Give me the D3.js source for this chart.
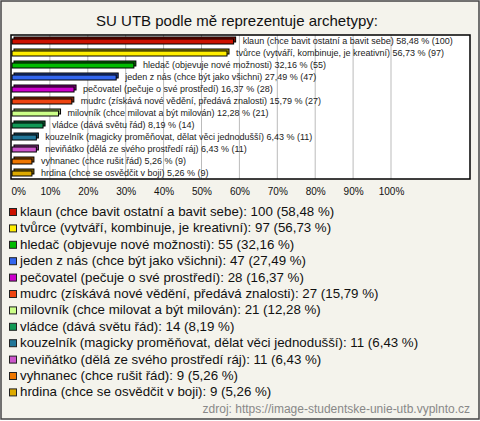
<!DOCTYPE html>
<html><head><meta charset="utf-8">
<script src="https://cdn.jsdelivr.net/npm/d3@7"></script>
<style>
html,body{margin:0;padding:0;background:#fff;}
svg{display:block;font-family:"Liberation Sans",Arial,sans-serif;}
</style></head>
<body>
<svg id="c" width="480" height="421"></svg>
<script>
const title = "SU UTB podle mě reprezentuje archetypy:";
const categories = [
  "klaun (chce bavit ostatní a bavit sebe)",
  "tvůrce (vytváří, kombinuje, je kreativní)",
  "hledač (objevuje nové možnosti)",
  "jeden z nás (chce být jako všichni)",
  "pečovatel (pečuje o své prostředí)",
  "mudrc (získává nové vědění, předává znalosti)",
  "milovník (chce milovat a být milován)",
  "vládce (dává světu řád)",
  "kouzelník (magicky proměňovat, dělat věci jednodušší)",
  "neviňátko (dělá ze svého prostředí ráj)",
  "vyhnanec (chce rušit řád)",
  "hrdina (chce se osvědčit v boji)"
];
const counts = [100, 97, 55, 47, 28, 27, 21, 14, 11, 11, 9, 9];
const percents = [58.48, 56.73, 32.16, 27.49, 16.37, 15.79, 12.28, 8.19, 6.43, 6.43, 5.26, 5.26];
const colors = ["#cc1100","#ffee00","#00bb00","#3366ee","#cc00cc","#ee4411","#ccff88","#119955","#227799","#cc55cc","#ee7700","#ddaa00"];
const ticks = [0,10,20,30,40,50,60,70,80,90,100];
const source = "zdroj: https://image-studentske-unie-utb.vyplnto.cz";

const fmt = v => v.toFixed(2).replace(".", ",");
const svg = d3.select("#c");

svg.append("rect").attr("x",1).attr("y",1).attr("width",478).attr("height",418)
  .attr("fill","#f4f3ec").attr("stroke","#444").attr("stroke-width",1.5);

svg.append("text").attr("x",237).attr("y",26).attr("text-anchor","middle")
  .attr("font-size",15).attr("fill","#111").text(title);

const plot = {x0:11, x1:470, y0:35, y1:179};
const x = d3.scaleLinear().domain([0,100]).range([12,391]);
const y = d3.scaleBand().domain(d3.range(categories.length)).range([plot.y0, plot.y1]);

svg.append("rect").attr("x",plot.x0).attr("y",plot.y0)
  .attr("width",plot.x1-plot.x0).attr("height",plot.y1-plot.y0).attr("fill","#fff");

svg.append("g").selectAll("line").data(ticks.slice(1)).join("line")
  .attr("x1",d=>x(d)).attr("x2",d=>x(d)).attr("y1",plot.y0).attr("y2",plot.y1)
  .attr("stroke","#bbb").attr("stroke-width",1);

const bars = svg.append("g").selectAll("g").data(categories).join("g");
bars.each(function(c,i){
  const g = d3.select(this);
  const cy = y(i) + y.bandwidth()/2;
  const w = x(percents[i]) - x(0);
  const dark = d3.color(colors[i]).darker(1.2);
  g.append("rect").attr("x",x(0)+2).attr("y",cy-4).attr("width",w).attr("height",5)
    .attr("fill",dark).attr("stroke","#000").attr("stroke-width",1);
  g.append("rect").attr("x",x(0)).attr("y",cy-2).attr("width",w).attr("height",5)
    .attr("fill",colors[i]).attr("stroke","#000").attr("stroke-width",1);
  g.append("text").attr("x",x(percents[i])+9).attr("y",cy+3)
    .attr("font-size",9).attr("fill","#222")
    .text(`${c} ${fmt(percents[i])} % (${counts[i]})`);
});

svg.append("rect").attr("x",plot.x0).attr("y",plot.y0)
  .attr("width",plot.x1-plot.x0).attr("height",plot.y1-plot.y0)
  .attr("fill","none").attr("stroke","#000").attr("stroke-width",1.5);

const axis = svg.append("g").attr("transform",`translate(0,${plot.y1})`)
  .call(d3.axisBottom(x).tickValues(ticks).tickSize(0).tickPadding(0).tickFormat(d=>d+"%"));
axis.select(".domain").remove();
axis.selectAll("text").attr("font-size",10).attr("fill","#111")
  .attr("font-family","'Liberation Sans',Arial,sans-serif").attr("dy",null).attr("y",16);
axis.selectAll(".tick").filter(d=>d===0).select("text").attr("text-anchor","start").attr("x",-1);

const leg = svg.append("g").selectAll("g").data(categories).join("g")
  .attr("transform",(d,i)=>`translate(0,${216 + i*16.4})`);
leg.append("rect").attr("x",9.5).attr("y",-7.5).attr("width",7).attr("height",7)
  .attr("fill",(d,i)=>colors[i]).attr("stroke","#222").attr("stroke-width",1);
leg.append("text").attr("x",20).attr("y",0).attr("font-size",13.3).attr("fill","#111")
  .text((d,i)=>`${d}: ${counts[i]} (${fmt(percents[i])} %)`);

svg.append("text").attr("x",470).attr("y",413).attr("text-anchor","end")
  .attr("font-size",12).attr("fill","#888").text(source);
</script>
</body></html>
